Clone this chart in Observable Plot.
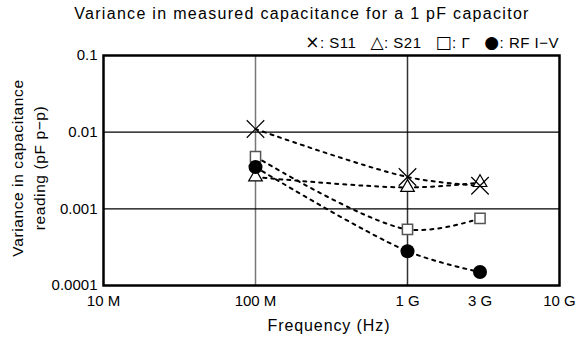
<!DOCTYPE html>
<html>
<head>
<meta charset="utf-8">
<script src="https://cdn.jsdelivr.net/npm/d3@7"></script>
<script src="https://cdn.jsdelivr.net/npm/@observablehq/plot@0.6"></script>
<style>
  html, body { margin: 0; padding: 0; background: #fff; }
  #wrap { position: relative; width: 577px; height: 341px; font-family: "Liberation Sans", Arial, sans-serif; color: #000; }
  #chart { position: absolute; left: 0; top: 0; }
  .title { position: absolute; left: 0; width: 604px; top: 5px; text-align: center; font-size: 16px; letter-spacing: 1.3px; white-space: nowrap; }
  .legend { position: absolute; right: 18px; top: 32px; font-size: 15px; white-space: nowrap; letter-spacing: 0.5px; }
  .legend .sym { font-family: "DejaVu Sans", sans-serif; font-size: 17px; }
  .xlabel { position: absolute; left: 0; width: 658px; top: 317px; text-align: center; font-size: 16px; letter-spacing: 0.9px; }
  .ylabel { position: absolute; left: 29px; top: 168px; width: 260px; transform: translate(-50%, -50%) rotate(-90deg); text-align: center; font-size: 15.5px; line-height: 22px; letter-spacing: 0.6px; }
</style>
</head>
<body>
<div id="wrap">
  <div id="chart"></div>
  <div class="title">Variance in measured capacitance for a 1 pF capacitor</div>
  <div class="legend"><span class="sym">×</span>: S11&nbsp;&nbsp;&nbsp;<span class="sym">△</span>: S21&nbsp;&nbsp;&nbsp;<span class="sym">□</span>: Γ&nbsp;&nbsp;&nbsp;<span class="sym">●</span>: RF I−V</div>
  <div class="xlabel">Frequency (Hz)</div>
  <div class="ylabel">Variance in capacitance<br>reading (pF p−p)</div>
</div>
<script>
const freqs = [1e8, 1e9, 3e9];
const s11 = [0.011, 0.0026, 0.002];
const s21 = [0.0026, 0.0019, 0.0022];
const gamma = [0.0048, 0.00054, 0.00075];
const rfiv = [0.0035, 0.00028, 0.00015];

const xTicks = [1e7, 1e8, 1e9, 3e9, 1e10];
const xTickLabels = ["10 M", "100 M", "1 G", "3 G", "10 G"];
const yTicks = [1e-4, 1e-3, 1e-2, 1e-1];
const yTickLabels = ["0.0001", "0.001", "0.01", "0.1"];
const xGrid = [1e8, 1e9];
const yGrid = [1e-3, 1e-2];

const mk = (vals) => freqs.map((f, i) => ({f, v: vals[i]}));
const dS11 = mk(s11), dS21 = mk(s21), dG = mk(gamma), dR = mk(rfiv);

const lineOpts = {x: "f", y: "v", stroke: "black", strokeWidth: 2, strokeDasharray: "3,5", curve: "catmull-rom"};

const chart = Plot.plot({
  width: 577,
  height: 341,
  marginTop: 55,
  marginLeft: 103,
  marginRight: 18,
  marginBottom: 56,
  style: {fontFamily: "Liberation Sans, Arial, sans-serif", fontSize: "15px", background: "white", color: "black"},
  x: {type: "log", domain: [1e7, 1e10], ticks: xTicks, tickFormat: (d) => xTickLabels[xTicks.indexOf(d)], tickSize: 0, tickPadding: 10, label: null},
  y: {type: "log", domain: [1e-4, 1e-1], ticks: yTicks, tickFormat: (d) => yTickLabels[yTicks.indexOf(d)], tickSize: 0, tickPadding: 6, label: null},
  marks: [
    Plot.ruleX(xGrid, {stroke: (d, i) => i === 0 ? "#777" : "#333", strokeWidth: 1.5}),
    Plot.ruleY(yGrid, {stroke: "black", strokeWidth: 1.2}),
    Plot.line(dS11, lineOpts),
    Plot.line(dS21, lineOpts),
    Plot.line(dG, lineOpts),
    Plot.line(dR, lineOpts),
    Plot.dot(dS21, {x: "f", y: "v", symbol: "triangle2", r: 6.5, stroke: "black", fill: "white", strokeWidth: 1.2}),
    Plot.dot(dG, {x: "f", y: "v", symbol: "square2", r: 6.5, stroke: "#555", fill: "white", strokeWidth: 1.5}),
    Plot.dot(dS11, {x: "f", y: "v", symbol: "times", r: 8, stroke: "black", strokeWidth: 1.2}),
    Plot.dot(dR, {x: "f", y: "v", symbol: "circle", r: 7, fill: "black", stroke: "none"}),
    Plot.frame({stroke: "black", strokeWidth: 2.5})
  ]
});
document.getElementById("chart").appendChild(chart);
</script>
</body>
</html>
